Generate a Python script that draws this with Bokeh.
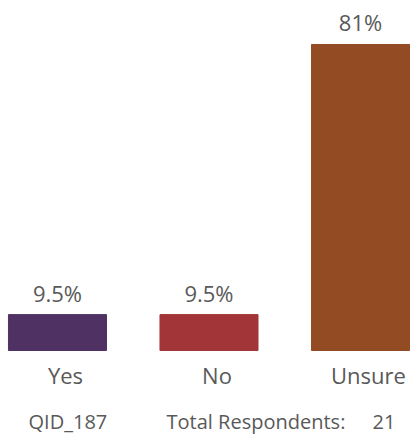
from bokeh.plotting import figure
from bokeh.models import ColumnDataSource, Range1d, LabelSet, Label
from bokeh.core.properties import value
from bokeh.embed import file_html
from bokeh.resources import INLINE

categories = ["Yes", "No", "Unsure"]
percent = [9.5, 9.5, 81.0]
percent_labels = ["9.5%", "9.5%", "81%"]
colors = ["#4F3163", "#A13537", "#934B23"]
question_id = "QID_187"
total_label = "Total Respondents:"
total_respondents = 21

xs = list(range(len(categories)))
src = ColumnDataSource(dict(x=xs, top=percent, cat=categories, lab=percent_labels,
                            color=colors, zero=[0] * len(xs)))

p = figure(width=410, height=436, output_backend="svg", toolbar_location=None,
           x_range=Range1d(-0.376, 2.330), y_range=Range1d(-22.76, 92.64),
           min_border=0)
p.axis.visible = False
p.grid.visible = False
p.outline_line_color = None
p.background_fill_color = "white"

p.vbar(x="x", top="top", bottom=0, width=0.647, color="color", source=src)

FONT = "Open Sans"
GRAY = "#595959"

p.add_layout(LabelSet(x="x", y="top", text="lab", source=src, text_align="center",
                      text_baseline="alphabetic", y_offset=13, text_font=value(FONT),
                      text_font_size=value("22px"), text_color=value(GRAY)))
p.add_layout(LabelSet(x="x", y="zero", text="cat", source=src, text_align="center",
                      text_baseline="alphabetic", y_offset=-33, x_offset=8, text_font=value(FONT),
                      text_font_size=value("22px"), text_color=value(GRAY)))

for txt, xx in [(question_id, -0.191), (total_label, 0.72), (str(total_respondents), 2.079)]:
    p.add_layout(Label(x=xx, y=-18.8, text=txt, text_align="left", text_baseline="alphabetic",
                       text_font=FONT, text_font_size="20px", text_color=GRAY))

open("out.html", "w").write(file_html(p, INLINE))
